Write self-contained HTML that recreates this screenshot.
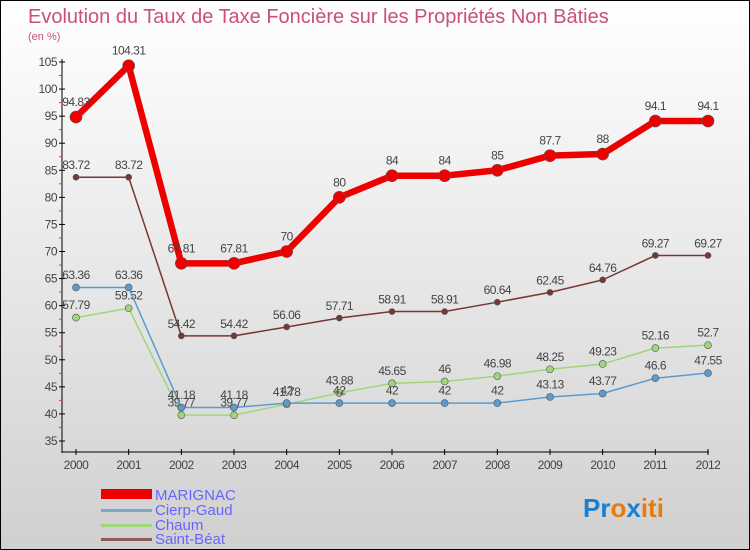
<!DOCTYPE html>
<html><head><meta charset="utf-8"><style>
body{margin:0}
#c{width:750px;height:550px;position:relative;box-sizing:border-box;border:1px solid #000;background:linear-gradient(#fff,#d0d0d0);font-family:"Liberation Sans",sans-serif;overflow:hidden}
svg{position:absolute;left:0;top:0}
</style></head><body>
<div id="c">
<svg id="s" width="750" height="550">
<text x="27" y="22" font-size="20" fill="#c8507a">Evolution du Taux de Taxe Foncière sur les Propriétés Non Bâties</text>
<text x="27" y="39" font-size="11" fill="#c8507a">(en %)</text>
<g>
<rect x="100" y="488" width="51" height="10" fill="#e00"/>
<text x="154" y="499" font-size="15" fill="#66f">MARIGNAC</text>
<rect x="100" y="508" width="51" height="3" fill="#7ba7c9"/>
<text x="154" y="514" font-size="15" fill="#66f">Cierp-Gaud</text>
<rect x="100" y="523" width="51" height="3" fill="#9fd67a"/>
<text x="154" y="529" font-size="15" fill="#66f">Chaum</text>
<rect x="100" y="537" width="51" height="3" fill="#8b5a5a"/>
<text x="154" y="543" font-size="15" fill="#66f">Saint-Béat</text>
</g>
<text x="582" y="516" font-size="26" font-weight="bold"><tspan fill="#1a7fd0">Pr</tspan><tspan fill="#e87a10">o</tspan><tspan fill="#1a7fd0">x</tspan><tspan fill="#e87a10">iti</tspan></text>
</svg>
</div>
<script>
const years=[2000,2001,2002,2003,2004,2005,2006,2007,2008,2009,2010,2011,2012];
const marignac=[94.83,104.31,67.81,67.81,70,80,84,84,85,87.7,88,94.1,94.1];
const cierp=[63.36,63.36,41.18,41.18,42,42,42,42,42,43.13,43.77,46.6,47.55];
const chaum=[57.79,59.52,39.77,39.77,41.78,43.88,45.65,46,46.98,48.25,49.23,52.16,52.7];
const stbeat=[83.72,83.72,54.42,54.42,56.06,57.71,58.91,58.91,60.64,62.45,64.76,69.27,69.27];
const yTicks=[35,40,45,50,55,60,65,70,75,80,85,90,95,100,105];
const NS="http://www.w3.org/2000/svg",svg=document.getElementById('s');
const x=i=>75+i*(707-75)/(years.length-1);
const y=v=>440-(v-35)*(440-61)/70;
function el(t,a,p){const e=document.createElementNS(NS,t);for(const k in a)e.setAttribute(k,a[k]);(p||svg).appendChild(e);return e;}
const ax=el('g',{});


el('line',{x1:61,y1:58,x2:61,y2:452,stroke:'#000'},ax);
el('line',{x1:61,y1:451,x2:708,y2:451,stroke:'#000'},ax);
yTicks.forEach((t,k)=>{
  el('line',{x1:58,y1:y(t),x2:64,y2:y(t),stroke:'#000'},ax);
  const tx=el('text',{x:56,y:y(t)+4,'font-size':12,fill:'#444','text-anchor':'end','letter-spacing':'-0.5'},ax);
  tx.textContent=t;
  
  
  if(k<yTicks.length-1) el('line',{x1:58,y1:y(t+2.5),x2:61,y2:y(t+2.5),stroke:'#e33'},ax);
});
years.forEach((yr,i)=>{
  el('line',{x1:x(i),y1:448,x2:x(i),y2:454,stroke:'#000'},ax);
  const tx=el('text',{x:x(i),y:468,'font-size':12,fill:'#444','text-anchor':'middle','letter-spacing':'-0.5'},ax);
  tx.textContent=yr;
  
  
});
function series(data,color,w,r,name){
  const g=el('g',{});
  
  
  el('polyline',{points:data.map((v,i)=>x(i)+','+y(v)).join(' '),fill:'none',stroke:color,'stroke-width':w,'stroke-linejoin':'round'},g);
  data.forEach((v,i)=>{
    const c=el('circle',{cx:x(i),cy:y(v),r:r,fill:color,stroke:'#555','stroke-width':0.6},g);
    
    
    const t=el('text',{x:x(i),y:y(v)-(r+5),'font-size':12,fill:'#444','text-anchor':'middle','letter-spacing':'-0.5'},g);
    t.textContent=v;
    
    
  });
}
series(stbeat,'#7a3535',1.5,3,'saint-beat');
series(chaum,'#9fd67a',1.5,3.5,'chaum');
series(cierp,'#5b9bd0',1.5,3.5,'cierp-gaud');
series(marignac,'#e00',6.5,6,'marignac');
</script>
</body></html>
